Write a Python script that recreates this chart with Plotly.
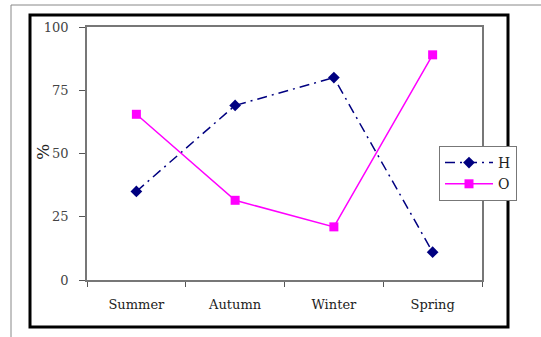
import plotly.graph_objects as go

# Seasonal percentages for the two series
seasons = ["Summer", "Autumn", "Winter", "Spring"]
h_values = [35, 69, 80, 11]
o_values = [65.5, 31.5, 21, 89]
y_ticks = [0, 25, 50, 75, 100]

W, H = 541, 337
L, R, T, B = 87, 59, 27, 57
pw, ph = W - L - R, H - T - B


def px_x(x):
    return (x - L) / pw


def px_y(y):
    return (H - B - y) / ph


serif = "DejaVu Serif, serif"

fig = go.Figure()
fig.add_trace(go.Scatter(
    x=seasons, y=h_values, name="H", mode="lines+markers",
    line=dict(color="#000080", width=1.5, dash="10px,5px,2px,5px"),
    marker=dict(symbol="diamond", size=9, color="#000080"),
))
fig.add_trace(go.Scatter(
    x=seasons, y=o_values, name="O", mode="lines+markers",
    line=dict(color="#FF00FF", width=1.5),
    marker=dict(symbol="square", size=9, color="#FF00FF"),
))

fig.update_layout(
    width=W, height=H,
    margin=dict(l=L, r=R, t=T, b=B),
    paper_bgcolor="white", plot_bgcolor="white",
    font=dict(family=serif, size=13, color="#222"),
    showlegend=True,
    legend=dict(
        x=px_x(439), y=px_y(146), xanchor="left", yanchor="top",
        bordercolor="#777", borderwidth=1, bgcolor="white",
        font=dict(family=serif, size=14, color="#222"),
        tracegroupgap=0, itemwidth=48,
    ),
    xaxis=dict(
        type="category", range=[-0.5, 3.5], tickson="boundaries",
        ticks="outside", ticklen=5, tickcolor="#555",
        ticklabelstandoff=12,
        showline=True, linecolor="#777", linewidth=1.5, mirror=True,
        showgrid=False, zeroline=False,
        tickfont=dict(family=serif, size=13, color="#222"),
    ),
    yaxis=dict(
        range=[0, 100], tickvals=y_ticks,
        ticks="outside", ticklen=6, tickcolor="#555",
        ticklabelstandoff=8,
        showline=True, linecolor="#777", linewidth=1.5, mirror=True,
        showgrid=False, zeroline=False,
        tickfont=dict(family=serif, size=13, color="#444"),
    ),
    shapes=[
        # outer frame of the chart area
        dict(type="rect", xref="paper", yref="paper",
             x0=px_x(30), x1=px_x(508), y0=px_y(15), y1=px_y(327),
             line=dict(color="black", width=3), layer="below"),
        # thin page rules along the top and left
        dict(type="line", xref="paper", yref="paper",
             x0=px_x(11), x1=px_x(541), y0=px_y(5), y1=px_y(5),
             line=dict(color="#888", width=1)),
        dict(type="line", xref="paper", yref="paper",
             x0=px_x(11), x1=px_x(11), y0=px_y(5), y1=px_y(337),
             line=dict(color="#888", width=1)),
    ],
    annotations=[
        dict(text="%", textangle=-90, xref="paper", yref="paper",
             x=px_x(43), y=px_y(152), xanchor="center", yanchor="middle",
             showarrow=False,
             font=dict(family=serif, size=17, color="#222")),
    ],
)

fig.write_html("out.html")
